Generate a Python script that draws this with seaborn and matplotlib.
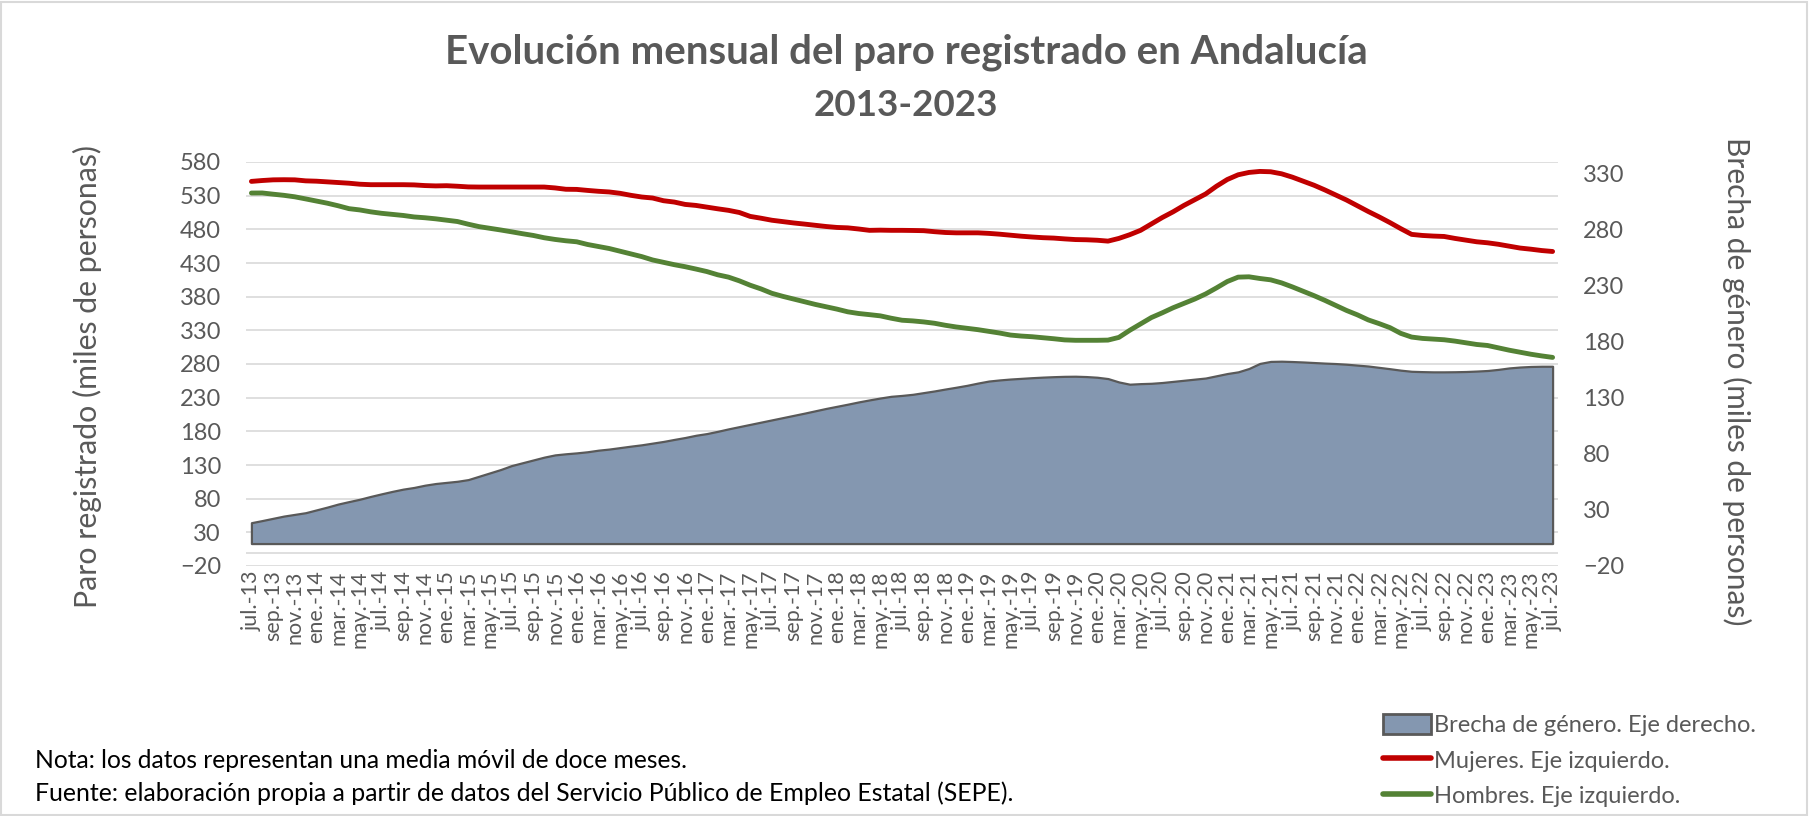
import numpy as np
import pandas as pd
import matplotlib
matplotlib.use('Agg')
import matplotlib.pyplot as plt
from matplotlib.patches import Patch, Rectangle
from matplotlib.lines import Line2D
import seaborn as sns

# datos: media móvil 12 meses, jul.-13 a jul.-23 (miles de personas)
mujeres = [
    551.2, 552.5, 553.5, 553.7, 553.5, 552.0, 551.5, 550.5, 549.5, 548.5,
    547.0, 546.3, 546.3, 546.3, 546.3, 546.0, 545.0, 544.5, 544.8, 544.0,
    543.0, 542.8, 542.8, 542.8, 542.8, 542.8, 542.8, 542.8, 541.5, 539.5,
    539.3, 537.8, 536.5, 535.5, 533.5, 530.5, 528.0, 526.5, 522.5, 520.5,
    517.0, 515.5, 513.0, 510.5, 508.2, 505.0, 499.2, 496.5, 493.5, 491.5,
    489.5, 487.8, 486.0, 484.2, 482.8, 482.2, 480.5, 478.5, 478.8, 478.5,
    478.5, 478.3, 478.0, 476.5, 475.3, 474.8, 474.8, 474.8, 474.0, 472.8,
    471.3, 469.8, 468.6, 467.6, 467.0, 465.8, 464.8, 464.5, 463.8, 462.5,
    466.5, 472.0, 478.5, 488.0, 497.5, 506.0, 515.5, 524.0, 532.5, 544.0,
    554.0, 561.0, 564.5, 566.0, 565.5, 562.5, 557.5, 551.5, 545.5, 538.5,
    531.0, 523.5, 515.0, 506.5, 498.5, 490.0, 481.0, 472.5, 470.9, 470.0,
    469.4, 466.5, 464.0, 461.5, 460.0, 457.8, 455.0, 452.2, 450.5, 448.5,
    447.1,
]
hombres = [
    533.9, 534.0, 532.2, 530.5, 528.3, 525.2, 522.0, 518.8, 515.0, 510.7,
    508.8, 506.0, 503.8, 502.2, 500.6, 498.4, 497.2, 495.6, 493.6, 491.6,
    487.6, 484.0, 481.5, 479.0, 476.3, 473.5, 470.9, 467.5, 465.0, 463.0,
    461.5, 457.5, 454.5, 451.5, 447.5, 443.5, 439.5, 434.5, 431.0, 427.5,
    424.5, 421.0, 417.3, 412.5, 409.0, 403.5, 397.0, 391.5, 385.0, 380.5,
    376.5, 372.5, 368.5, 365.0, 361.5, 357.5, 355.0, 353.3, 351.5, 348.0,
    345.0, 344.0, 342.5, 340.5, 337.5, 335.0, 333.0, 331.0, 328.5, 326.0,
    323.0, 321.5, 320.5, 319.0, 317.5, 315.8, 315.2, 315.2, 315.2, 315.5,
    319.5, 330.0, 339.5, 349.0, 356.0, 363.5, 370.0, 376.5, 384.0, 393.0,
    402.5, 409.0, 409.5, 407.0, 405.0, 400.5, 394.5, 388.0, 381.5, 374.5,
    367.0, 359.5, 353.0, 345.5, 340.0, 334.0, 325.5, 320.0, 318.0, 317.0,
    316.0, 314.0, 311.5, 309.0, 307.5, 304.0, 300.5, 297.5, 294.5, 292.0,
    289.8,
]
brecha = [
    18.6, 20.5, 22.5, 24.5, 26.0, 27.5, 30.0, 32.5, 35.2, 37.4,
    39.5, 42.0, 44.3, 46.5, 48.5, 50.0, 52.0, 53.5, 54.5, 55.5,
    57.0, 60.0, 63.0, 66.0, 69.5, 72.0, 74.5, 77.0, 79.0, 80.0,
    80.8, 81.8, 83.2, 84.2, 85.5, 86.8, 88.0, 89.5, 91.0, 92.8,
    94.5, 96.5, 98.0, 100.0, 102.2, 104.2, 106.2, 108.2, 110.2, 112.2,
    114.2, 116.2, 118.3, 120.4, 122.3, 124.2, 126.2, 128.0, 129.7, 131.2,
    132.0, 133.0, 134.5, 136.0, 137.7, 139.3, 141.0, 143.0, 144.8, 145.8,
    146.6, 147.2, 147.8, 148.3, 148.7, 149.0, 149.1, 148.8, 148.2, 147.0,
    144.0, 142.0, 142.5, 142.8, 143.5, 144.5, 145.5, 146.5, 147.5, 149.5,
    151.5, 153.0, 156.0, 160.5, 162.3, 162.5, 162.2, 161.8, 161.3, 160.8,
    160.4, 159.8, 159.0, 158.2, 157.0, 155.8, 154.5, 153.5, 153.2, 153.0,
    153.0, 153.1, 153.3, 153.7, 154.2, 155.2, 156.5, 157.3, 157.8, 158.0,
    158.0,
]
etiquetas_x = [
    'jul.-13', 'sep.-13', 'nov.-13',
    'ene.-14', 'mar.-14', 'may.-14', 'jul.-14', 'sep.-14', 'nov.-14',
    'ene.-15', 'mar.-15', 'may.-15', 'jul.-15', 'sep.-15', 'nov.-15',
    'ene.-16', 'mar.-16', 'may.-16', 'jul.-16', 'sep.-16', 'nov.-16',
    'ene.-17', 'mar.-17', 'may.-17', 'jul.-17', 'sep.-17', 'nov.-17',
    'ene.-18', 'mar.-18', 'may.-18', 'jul.-18', 'sep.-18', 'nov.-18',
    'ene.-19', 'mar.-19', 'may.-19', 'jul.-19', 'sep.-19', 'nov.-19',
    'ene.-20', 'mar.-20', 'may.-20', 'jul.-20', 'sep.-20', 'nov.-20',
    'ene.-21', 'mar.-21', 'may.-21', 'jul.-21', 'sep.-21', 'nov.-21',
    'ene.-22', 'mar.-22', 'may.-22', 'jul.-22', 'sep.-22', 'nov.-22',
    'ene.-23', 'mar.-23', 'may.-23', 'jul.-23',
]
ticks_izq = list(range(-20, 581, 50))
ticks_der = list(range(-20, 331, 50))

df = pd.DataFrame({'mes': np.arange(len(mujeres)), 'Mujeres': mujeres,
                   'Hombres': hombres, 'Brecha': brecha})

sns.set_theme(style='white')
plt.rcParams['font.family'] = ['Lato', 'DejaVu Sans']
gris = '#595959'

W, H = 1813, 816
fig = plt.figure(figsize=(W / 100, H / 100), dpi=100)
ax = fig.add_axes([246 / W, 1 - 566 / H, (1558 - 246) / W, (566 - 162) / H])
ax2 = ax.twinx()

# rejilla y eje en 0
for t in ticks_izq:
    ax.axhline(t, color='#D9D9D9', lw=1.2, zorder=0)
ax.axhline(0, color='#D9D9D9', lw=1.2, zorder=0)

sns.lineplot(data=df, x='mes', y='Mujeres', ax=ax, color='#C00000', lw=3.5)
sns.lineplot(data=df, x='mes', y='Hombres', ax=ax, color='#548235', lw=3.5)
ax2.fill_between(df['mes'], 0, df['Brecha'], facecolor='#8497B0',
                 edgecolor=gris, lw=1.6)

ax.set_xlim(-0.5, len(mujeres) - 0.5)
ax.set_ylim(-20, 580)
ax2.set_ylim(-20, 340)
ax.set_yticks(ticks_izq)
ax2.set_yticks(ticks_der)
ax.set_xticks(np.arange(0, len(mujeres), 2))
ax.set_xticklabels(etiquetas_x, rotation=90, fontsize=15.5, color=gris)
ax.set_xlabel('')
ax.set_ylabel('')
ax2.set_ylabel('')
ax.tick_params(axis='y', labelsize=17, labelcolor=gris, length=0, pad=18)
ax.tick_params(axis='x', length=0, pad=3)
ax2.tick_params(axis='y', labelsize=17, labelcolor=gris, length=0, pad=18)
ax.grid(False)
ax2.grid(False)
for a in (ax, ax2):
    for s in a.spines.values():
        s.set_visible(False)

fig.text(87 / W, 1 - 376 / H, 'Paro registrado (miles de personas)',
         rotation=90, ha='center', va='center', fontsize=21.8, color=gris)
fig.text(1737 / W, 1 - 381 / H, 'Brecha de género (miles de personas)',
         rotation=270, ha='center', va='center', fontsize=21.5, color=gris)

fig.text(906 / W, 1 - 52 / H, 'Evolución mensual del paro registrado en Andalucía',
         ha='center', va='center', fontsize=29, fontweight='bold', color=gris)
fig.text(906 / W, 1 - 105 / H, '2013-2023',
         ha='center', va='center', fontsize=26.5, fontweight='bold', color=gris)

fig.text(35 / W, 1 - 760 / H, 'Nota: los datos representan una media móvil de doce meses.',
         ha='left', va='center', fontsize=17.7, color='black')
fig.text(35 / W, 1 - 793 / H,
         'Fuente: elaboración propia a partir de datos del Servicio Público de Empleo Estatal (SEPE).',
         ha='left', va='center', fontsize=17.9, color='black')

handles = [Patch(facecolor='#8497B0', edgecolor=gris, lw=2),
           Line2D([], [], color='#C00000', lw=4),
           Line2D([], [], color='#548235', lw=4)]
labels = ['Brecha de género. Eje derecho.', 'Mujeres. Eje izquierdo.',
          'Hombres. Eje izquierdo.']
fig.legend(handles, labels, loc='upper left', bbox_to_anchor=(1383 / W, 1 - 714 / H),
           frameon=False, fontsize=17, handlelength=2.05, handleheight=0.95,
           handletextpad=0.12, labelspacing=0.55, labelcolor=gris, borderpad=0,
           borderaxespad=0)

fig.patches.append(Rectangle((1 / W, 1 / H), 1806 / W, 813 / H, transform=fig.transFigure,
                             fill=False, edgecolor='#D9D9D9', lw=1.5))

fig.savefig('out.png', dpi=100)
